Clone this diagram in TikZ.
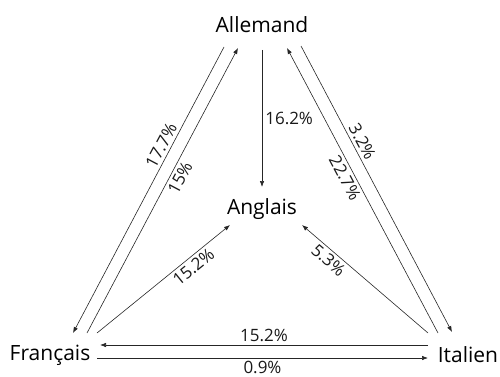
\documentclass[tikz,border=0pt]{standalone}
\usepackage{fontspec}
\setmainfont{Open Sans}
\usetikzlibrary{arrows.meta, calc}

\begin{document}
\begin{tikzpicture}[
  x=1pt, y=-1pt,
  lang/.style={font=\fontsize{21}{24}\selectfont, inner sep=1pt},
  arr/.style={-{Latex[length=6pt, width=4.5pt]}, line width=0.6pt, black!85},
  lbl/.style={font=\fontsize{17}{20}\selectfont, black!90, inner sep=3pt, sloped}
]
\useasboundingbox (0,0) rectangle (500,377);

\node[lang] (ale) at (262, 25)  {Allemand};
\node[lang] (ang) at (262, 209) {Anglais};
\node[lang] (fra) at (50, 355)  {Français};
\node[lang] (ita) at (468, 355) {Italien};

% Allemand -> Anglais
\draw[arr] ($(ale)+(0,25)$) -- node[lbl, right, sloped=false]{16.2\%} ($(ang)+(0,-22)$);

% Allemand <-> Francais
\draw[arr] ($(ale)+(-38,22)$) -- node[lbl, pos=0.36, above]{17.7\%} ($(fra)+(23,-22)$);
\draw[arr] ($(fra)+(37,-22)$) -- node[lbl, pos=0.56, below]{15\%} ($(ale)+(-24,23)$);

% Allemand <-> Italien
\draw[arr] ($(ale)+(39,21)$) -- node[lbl, pos=0.35, above]{3.2\%} ($(ita)+(-16,-23)$);
\draw[arr] ($(ita)+(-30,-22)$) -- node[lbl, pos=0.56, below]{22.7\%} ($(ale)+(25,23)$);

% vers Anglais
\draw[arr] ($(fra)+(47,-22)$) -- node[lbl, pos=0.68, below]{15.2\%} ($(ang)+(-32,16)$);
\draw[arr] ($(ita)+(-40,-22)$) -- node[lbl, pos=0.74, below]{5.3\%} ($(ang)+(40,16)$);

% Francais <-> Italien
\draw[arr] ($(ita)+(-40,-10)$) -- node[lbl, above]{15.2\%} ($(fra)+(50,-10)$);
\draw[arr] ($(fra)+(47,3)$) -- node[lbl, below]{0.9\%} ($(ita)+(-40,3)$);
\end{tikzpicture}
\end{document}
